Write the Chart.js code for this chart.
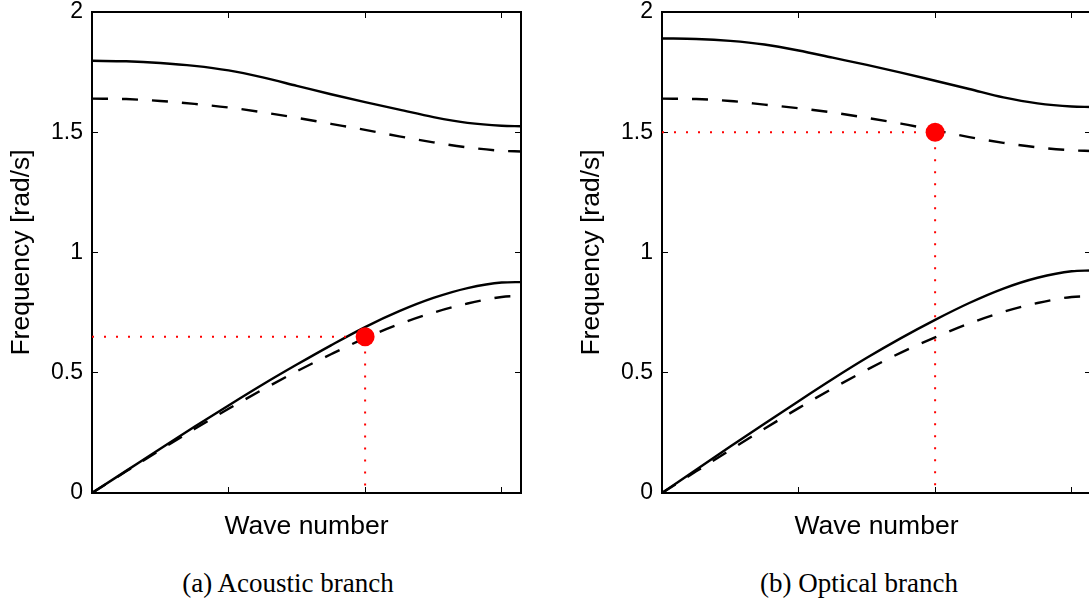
<!DOCTYPE html>
<html>
<head>
<meta charset="utf-8">
<script src="https://cdn.jsdelivr.net/npm/chart.js@4.4.0/dist/chart.umd.min.js"></script>
<style>
  html, body { margin: 0; padding: 0; background: #fff; overflow: hidden; width: 1089px; height: 604px; }
  canvas { position: absolute; top: 0; }
  .cap { position: absolute; top: 570px; width: 400px; text-align: center; font: 27px "Liberation Serif", serif; line-height: 1; color: #000; }
</style>
</head>
<body>
<canvas id="acoustic" width="540" height="560" style="left:0"></canvas>
<canvas id="optical" width="540" height="560" style="left:570px"></canvas>
<div class="cap" style="left:88px">(a) Acoustic branch</div>
<div class="cap" style="left:659px">(b) Optical branch</div>
<script>
// valeurs
const waveNumber = [0, 0.25, 0.5, 0.75, 1, 1.25, 1.5, 1.75, 2, 2.25, 2.5, 2.75, 3, 3.1416];

const acUpperSolid  = [1.797, 1.795, 1.788, 1.776, 1.757, 1.728, 1.693, 1.658, 1.625, 1.594, 1.563, 1.539, 1.527, 1.525];
const acUpperDashed = [1.640, 1.638, 1.630, 1.618, 1.603, 1.583, 1.560, 1.535, 1.510, 1.483, 1.458, 1.437, 1.423, 1.420];
const acLowerSolid  = [0, 0.092, 0.184, 0.275, 0.364, 0.451, 0.534, 0.614, 0.690, 0.756, 0.811, 0.852, 0.875, 0.877];
const acLowerDashed = [0, 0.090, 0.179, 0.266, 0.350, 0.430, 0.506, 0.577, 0.644, 0.702, 0.750, 0.788, 0.815, 0.820];

const opUpperSolid  = [1.890, 1.888, 1.880, 1.865, 1.840, 1.810, 1.780, 1.748, 1.714, 1.680, 1.645, 1.620, 1.607, 1.605];
const opUpperDashed = [1.640, 1.638, 1.630, 1.615, 1.600, 1.582, 1.560, 1.536, 1.508, 1.480, 1.456, 1.437, 1.425, 1.422];
const opLowerSolid  = [0, 0.097, 0.193, 0.288, 0.382, 0.474, 0.562, 0.644, 0.720, 0.790, 0.850, 0.895, 0.922, 0.925];
const opLowerDashed = [0, 0.090, 0.179, 0.267, 0.353, 0.435, 0.512, 0.584, 0.647, 0.705, 0.753, 0.790, 0.815, 0.818];

// point choisi (a) et (b)
const markerWave = [2, 2];
const markerFreq = [0.65, 1.5];

const xTickValues = [1, 2, 3];
const yTickValues = [0, 0.5, 1, 1.5, 2];
const yTickLabels = ['0', '0.5', '1', '1.5', '2'];

const SANS = '"Liberation Sans", Arial, sans-serif';
const CANVAS_H = 560;
const PLOT_LEFT = 92, PLOT_RIGHT = 521, PLOT_TOP = 12, PLOT_BOTTOM = 493;

function curve(values, dashed) {
    return {
        data: waveNumber.map((x, i) => ({ x, y: values[i] })),
        borderColor: '#000',
        borderWidth: 2.4,
        borderDash: dashed ? [16, 14] : [],
        pointRadius: 0,
        cubicInterpolationMode: 'monotone',
        fill: false
    };
}

function frameAxis(position, extra) {
    const horizontal = position === 'top' || position === 'bottom';
    return Object.assign({
        type: 'linear',
        position,
        min: 0,
        max: horizontal ? Math.PI : 2,
        afterBuildTicks: s => {
            s.ticks = (horizontal ? xTickValues : yTickValues).map(v => ({ value: v }));
        },
        ticks: { display: false, autoSkip: false },
        grid: { drawOnChartArea: false, tickLength: -6, color: '#000', lineWidth: 1 },
        border: { color: '#000', width: 2 },
        afterFit: s => {
            if (horizontal) s.height = 0; else s.width = 0;
            s.paddingLeft = s.paddingRight = s.paddingTop = s.paddingBottom = 0;
        }
    }, extra || {});
}

function makePanel(id, curves, k) {
    const ctx = document.getElementById(id).getContext('2d');
    const f = markerFreq[k], w = markerWave[k];
    return new Chart(ctx, {
        type: 'line',
        data: {
            datasets: [
                {
                    data: [{ x: w, y: f }],
                    showLine: false,
                    pointRadius: 9.5,
                    pointBackgroundColor: '#ff0000',
                    pointBorderWidth: 0
                },
                {
                    data: [{ x: 0, y: f }, { x: w, y: f }, { x: w, y: 0 }],
                    borderColor: '#ff0000',
                    borderWidth: 2,
                    borderDash: [2, 10],
                    pointRadius: 0,
                    tension: 0
                },
                curve(curves[0], false),
                curve(curves[1], true),
                curve(curves[2], false),
                curve(curves[3], true)
            ]
        },
        options: {
            responsive: false,
            animation: false,
            devicePixelRatio: 1,
            layout: { padding: { left: 0, top: PLOT_TOP, right: 540 - PLOT_RIGHT, bottom: 0 } },
            plugins: { legend: { display: false }, tooltip: { enabled: false } },
            scales: {
                x: frameAxis('bottom', {
                    title: { display: true, text: 'Wave number', color: '#000', font: { family: SANS, size: 26.5 }, padding: { top: 0, bottom: 17 } },
                    afterFit: s => {
                        s.height = CANVAS_H - PLOT_BOTTOM;
                        s.paddingLeft = s.paddingRight = s.paddingTop = s.paddingBottom = 0;
                    }
                }),
                y: frameAxis('left', {
                    ticks: {
                        display: true, autoSkip: false, color: '#000', padding: 15,
                        font: { family: SANS, size: 23 },
                        callback: (v, i) => yTickLabels[i]
                    },
                    title: { display: true, text: 'Frequency [rad/s]', color: '#000', font: { family: SANS, size: 26.5 }, padding: { top: 6, bottom: 0 } },
                    afterFit: s => {
                        s.width = PLOT_LEFT;
                        s.paddingLeft = s.paddingRight = s.paddingTop = s.paddingBottom = 0;
                    }
                }),
                xTop: frameAxis('top'),
                yRight: frameAxis('right')
            }
        }
    });
}

makePanel('acoustic', [acUpperSolid, acUpperDashed, acLowerSolid, acLowerDashed], 0);
makePanel('optical', [opUpperSolid, opUpperDashed, opLowerSolid, opLowerDashed], 1);
</script>
</body>
</html>
